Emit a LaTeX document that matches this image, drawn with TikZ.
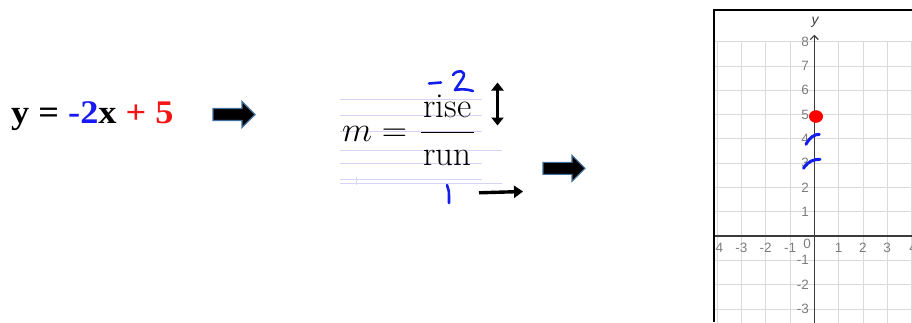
\documentclass[tikz,border=0pt]{standalone}
\usepackage{fix-cm}
\usepackage{fontspec}
\newfontfamily\eqfont{Liberation Serif}
\newfontfamily\tickfont{Liberation Sans}
\usetikzlibrary{arrows.meta}
\definecolor{eqblue}{RGB}{25,25,245}
\definecolor{eqred}{RGB}{245,20,20}
\definecolor{penblue}{RGB}{20,30,235}
\definecolor{arrowedge}{RGB}{65,113,156}
\definecolor{ruled}{RGB}{212,212,245}
\definecolor{gridgray}{RGB}{218,218,218}
\definecolor{ticklbl}{RGB}{125,125,125}
\definecolor{axisgray}{RGB}{60,60,60}
\tikzset{
  blockarrstyle/.style={fill=black, draw=arrowedge, line width=1.1pt, line join=miter},
  blockarr/.pic={\path[blockarrstyle] (0,-6) -- (29,-6) -- (29,-13) -- (42,0) -- (29,13) -- (29,6) -- (0,6) -- cycle;},
  ruledline/.style={draw=ruled, line width=0.6pt},
  pen/.style={draw=penblue, line width=2.6pt, line cap=round, line join=round},
  blackpen/.style={draw=black, line width=3.4pt},
  fractext/.style={anchor=base, inner sep=0pt, font=\fontsize{35}{40}\selectfont},
  gridline/.style={draw=gridgray, line width=0.8pt},
  axisline/.style={draw=axisgray, line width=1.1pt},
  ticktext/.style={text=ticklbl, font=\tickfont\fontsize{13.5}{13.5}\selectfont, inner sep=0pt},
}
\begin{document}
\begin{tikzpicture}[x=1pt,y=-1pt]
\useasboundingbox (0,0) rectangle (912,322);

% equation
\node[anchor=base west, inner sep=0pt] (eq) at (11,123)
  {\eqfont\bfseries\fontsize{33}{35}\selectfont\scalebox{1.1}[1]{y = \textcolor{eqblue}{-2}x \textcolor{eqred}{+ 5}}};

% block arrows
\pic (arrowA) at (213,114.5) {blockarr};
\pic (arrowB) at (543,168.3) {blockarr};

% ruled paper lines
\foreach \yy in {99.3,115,131,163.3,179.3} \draw[ruledline] (340,\yy) -- (482,\yy);
\foreach \yy in {150.7,183.3} \draw[ruledline] (340,\yy) -- (502,\yy);
\draw[ruledline] (356,177) -- (356,185);

% slope formula
\node[anchor=base west, inner sep=0pt, font=\fontsize{35}{40}\selectfont] (slope) at (342,141.7) {$m=$};
\node[fractext] (rise) at (447.5,117.5) {rise};
\node[fractext] (run) at (447.5,165) {run};
\draw[line width=1.4pt] (421,132.3) -- (474,132.3);

% handwritten -2
\draw[pen] (429,83.5) -- (441,82.5);
\draw[pen] (453,75) .. controls (457,69) and (467,70) .. (463,78) -- (455,90) .. controls (461,89) and (467,89) .. (473,91);
% handwritten 1
\draw[pen] (447,185) .. controls (449,190) .. (449,203);

% black arrows
\coordinate (riseTop) at (497.5,82.5);
\coordinate (riseBot) at (497.5,125.5);
\draw[blackpen, {Triangle[length=8pt,width=12pt]}-{Triangle[length=8pt,width=12pt]}] (riseTop) -- (riseBot);
\coordinate (runA) at (479,192.8);
\coordinate (runB) at (523,191.5);
\draw[blackpen, -{Triangle[length=9pt,width=12pt]}] (runA) -- (runB);

% graph
\begin{scope}
\clip (714,10) rectangle (912,322);
\begin{scope}[shift={(814.3,236)}, x=24.3pt, y=24.3pt]
  \foreach \k in {-3,...,8} \draw[gridline] (-4.2,\k) -- (4.2,\k);
  \foreach \k in {-4,...,4} \draw[gridline] (\k,8) -- (\k,-3.6);
  \draw[axisline] (-4.2,0) -- (4.2,0);
  \draw[axisline, -{Straight Barb[length=4pt,width=8pt]}] (0,-3.6) -- (0,8.28);
  \node[text=axisgray, font=\tickfont\itshape\fontsize{14}{14}\selectfont, inner sep=0pt] (ylbl) at (0.03,8.8) {y};
  \foreach \k in {1,...,8} \node[ticktext, anchor=east] (yt\k) at (-0.22,\k) {\k};
  \foreach \k in {1,2,3} \node[ticktext, anchor=east] (ytm\k) at (-0.22,-\k) {-\k};
  \foreach \k in {1,2,3} \node[ticktext] (xt\k) at (\k,-0.5) {\k};
  \foreach \k in {1,2,3,4} \node[ticktext] (xtm\k) at (-\k,-0.5) {-\k};
  \node[ticktext, anchor=west] (xt4) at (3.9,-0.5) {4};
  \node[ticktext] (xt0) at (-0.3,-0.33) {0};
\end{scope}
\end{scope}
\draw[black, line width=1.4pt] (714,322) -- (714,10) -- (912,10);

% red dot and blue marks
\fill[red] (816,116.5) ellipse [x radius=7, y radius=6.3];
\draw[pen, line width=3pt] (806,144.3) .. controls (810,137) and (814,134.5) .. (819.3,134.3);
\draw[pen, line width=3pt] (803.5,168.3) .. controls (808,161) and (814,159.3) .. (820,159.3);
\end{tikzpicture}
\end{document}
